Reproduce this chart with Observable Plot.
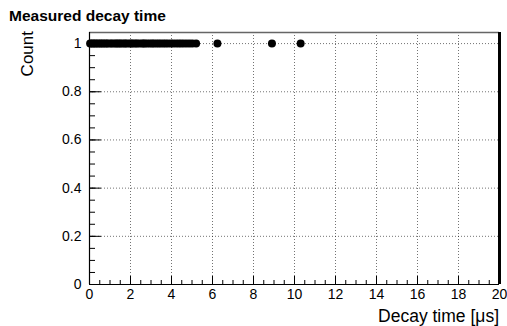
<!DOCTYPE html>
<html>
<head>
<meta charset="utf-8">
<script src="https://cdn.jsdelivr.net/npm/d3@7"></script>
<script src="https://cdn.jsdelivr.net/npm/@observablehq/plot@0.6"></script>
<style>
  html, body { margin: 0; padding: 0; background: #fff; }
  #chart { width: 507px; height: 326px; overflow: hidden; }
</style>
</head>
<body>
<div id="chart"></div>
<script>
// Data
const decayTimes = [0.03,0.1,0.18,0.25,0.33,0.41,0.5,0.57,0.66,0.74,0.83,0.9,1.02,1.1,1.21,1.3,1.38,1.47,1.55,1.66,1.74,1.83,1.95,2.04,2.12,2.23,2.31,2.42,2.55,2.63,2.71,2.82,2.94,3.05,3.14,3.26,3.37,3.48,3.6,3.71,3.83,3.97,4.08,4.22,4.35,4.47,4.6,4.74,4.88,5.02,5.2,6.24,8.9,10.3];
const counts = decayTimes.map(() => 1);
const points = decayTimes.map((t, i) => ({t, c: counts[i]}));

const xTicks = [0,2,4,6,8,10,12,14,16,18,20];
const yTicks = [0,0.2,0.4,0.6,0.8,1];
const xMinor = d3.range(0, 20.001, 0.5);
const yMinor = d3.range(0, 1.0001, 0.05);

const W = 507, H = 326;
const mL = 89, mR = 8, mT = 32, mB = 42;
const pw = W - mL - mR, ph = H - mT - mB;
const font = "Liberation Sans, Arial, Helvetica, sans-serif";

const plot = Plot.plot({
  width: W, height: H,
  marginLeft: mL, marginRight: mR, marginTop: mT, marginBottom: mB,
  style: {fontFamily: font, fontSize: "14px", color: "#000", background: "#fff"},
  x: {domain: [0, 20]},
  y: {domain: [0, 1.046]},
  marks: [
    Plot.gridX(xTicks, {stroke: "#000", strokeOpacity: 0.55, strokeDasharray: "1,2"}),
    Plot.gridY(yTicks, {stroke: "#000", strokeOpacity: 0.55, strokeDasharray: "1,2"}),
    // minor/major ticks pointing inward
    Plot.tickX(xMinor, {x: d => d, stroke: "#000", insetTop: ph - 4}),
    Plot.tickX(xTicks, {x: d => d, stroke: "#000", insetTop: ph - 8}),
    Plot.tickY(yMinor, {y: d => d, stroke: "#000", insetRight: pw - 6}),
    Plot.tickY(yTicks, {y: d => d, stroke: "#000", insetRight: pw - 12}),
    Plot.axisX({ticks: xTicks, tickSize: 0, tickPadding: 5, label: null, fontSize: 14, tickFormat: d => String(d)}),
    Plot.axisY({ticks: yTicks, tickSize: 0, tickPadding: 8, label: null, fontSize: 14, tickFormat: d => String(d)}),
    // frame
    Plot.ruleY([1.046], {stroke: "#666", strokeWidth: 1.5}),
    Plot.ruleX([20], {stroke: "#000", strokeWidth: 3}),
    Plot.ruleX([0], {stroke: "#000", strokeWidth: 1.2}),
    Plot.ruleY([0], {stroke: "#000", strokeWidth: 1.2}),
    Plot.dot(points, {x: "t", y: "c", r: 4, fill: "#000", stroke: "none"})
  ]
});

const svg = d3.select(plot);
svg.append("text")
  .attr("x", 9).attr("y", 21)
  .attr("text-anchor", "start")
  .attr("font-family", font).attr("font-size", 15.5).attr("font-weight", "bold")
  .attr("fill", "#000")
  .text("Measured decay time");
svg.append("text")
  .attr("transform", "translate(33,31) rotate(-90)")
  .attr("text-anchor", "end")
  .attr("font-family", font).attr("font-size", 17)
  .attr("fill", "#000")
  .text("Count");
svg.append("text")
  .attr("x", 499).attr("y", 322)
  .attr("text-anchor", "end")
  .attr("font-family", font).attr("font-size", 17.5)
  .attr("fill", "#000")
  .text("Decay time [μs]");

document.getElementById("chart").appendChild(plot);
</script>
</body>
</html>
